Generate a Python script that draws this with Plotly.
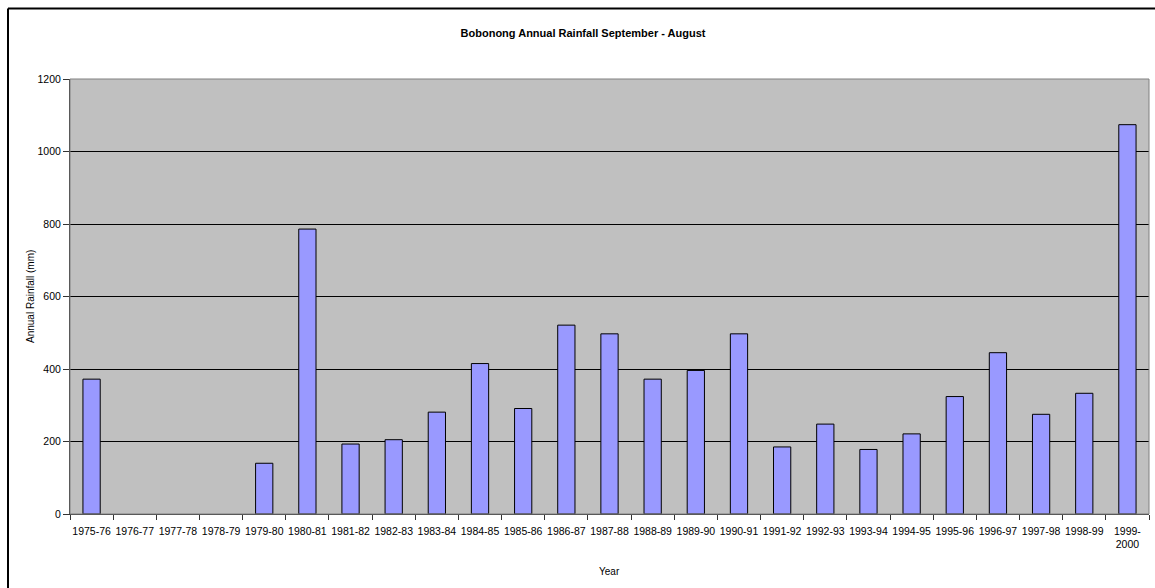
import plotly.graph_objects as go

years = ["1975-76", "1976-77", "1977-78", "1978-79", "1979-80", "1980-81", "1981-82",
         "1982-83", "1983-84", "1984-85", "1985-86", "1986-87", "1987-88", "1988-89",
         "1989-90", "1990-91", "1991-92", "1992-93", "1993-94", "1994-95", "1995-96",
         "1996-97", "1997-98", "1998-99", "1999-2000"]
tick_labels = ["1975-76", "1976-77", "1977-78", "1978-79", "1979-80", "1980-81", "1981-82",
               "1982-83", "1983-84", "1984-85", "1985-86", "1986-87", "1987-88", "1988-89",
               "1989-90", "1990-91", "1991-92", "1992-93", "1993-94", "1994-95", "1995-96",
               "1996-97", "1997-98", "1998-99", "1999-<br>2000"]
rainfall = [372, None, None, None, 140, 786, 193, 205, 281, 415, 291, 521, 497, 372,
            396, 497, 185, 248, 178, 221, 324, 445, 275, 333, 1074]
y_ticks = [0, 200, 400, 600, 800, 1000, 1200]

W, H = 1155, 588
L, R, T, B = 70, 1149, 79, 514
pw, ph = R - L, B - T

def px(x):
    return (x - L) / pw

def py(y):
    return (B - y) / ph

font = "Liberation Sans, Arial, sans-serif"

fig = go.Figure()
fig.add_trace(go.Bar(
    x=years, y=rainfall, width=0.4,
    marker=dict(color="#9999FF", line=dict(color="#000000", width=1)),
))

fig.update_layout(
    width=W, height=H,
    margin=dict(l=L, r=W - R, t=T, b=H - B, autoexpand=False),
    paper_bgcolor="white", plot_bgcolor="#C0C0C0",
    showlegend=False,
    font=dict(family=font, size=10, color="black"),
    title=dict(text="<b>Bobonong Annual Rainfall September - August</b>",
               x=583 / W, xanchor="center", y=1 - 33 / H, yanchor="middle",
               font=dict(family=font, size=11, color="black")),
    bargap=0.6,
)
fig.update_xaxes(
    type="category", tickmode="array", tickvals=years, ticktext=tick_labels,
    tickson="boundaries", ticks="outside", ticklen=5, tickcolor="#333333",
    showline=True, linecolor="#333333", linewidth=1, showgrid=False,
    tickfont=dict(size=10.5), tickangle=0, automargin=False, ticklabelstandoff=7,
    range=[-0.5, len(years) - 0.5],
)
fig.update_yaxes(
    range=[0, 1200], tickvals=y_ticks, ticks="outside", ticklen=6, tickcolor="#333333",
    showline=True, linecolor="#333333", linewidth=1, automargin=False,
    showgrid=True, gridcolor="#000000", gridwidth=1, zeroline=False,
    tickfont=dict(size=10.5),
)

# plot-area border (top/right in gray)
fig.add_shape(type="rect", xref="paper", yref="paper", x0=0, y0=0, x1=1, y1=1,
              line=dict(color="#808080", width=1))
# outer chart frame (left and top edges; the rest lies outside the picture)
fig.add_shape(type="line", xref="paper", yref="paper",
              x0=px(8), y0=py(620), x1=px(8), y1=py(8.5),
              line=dict(color="#000000", width=2))
fig.add_shape(type="line", xref="paper", yref="paper",
              x0=px(8), y0=py(8.5), x1=px(1200), y1=py(8.5),
              line=dict(color="#000000", width=2))

fig.add_annotation(text="Annual Rainfall (mm)", xref="paper", yref="paper",
                   x=px(30), y=py(297), textangle=-90, showarrow=False,
                   xanchor="center", yanchor="middle", font=dict(size=10))
fig.add_annotation(text="Year", xref="paper", yref="paper",
                   x=px(609), y=py(571), showarrow=False,
                   xanchor="center", yanchor="middle", font=dict(size=10))

fig.write_html("out.html", config={"displayModeBar": False},
               post_script="document.body.style.margin='0';document.body.style.overflow='hidden';")
